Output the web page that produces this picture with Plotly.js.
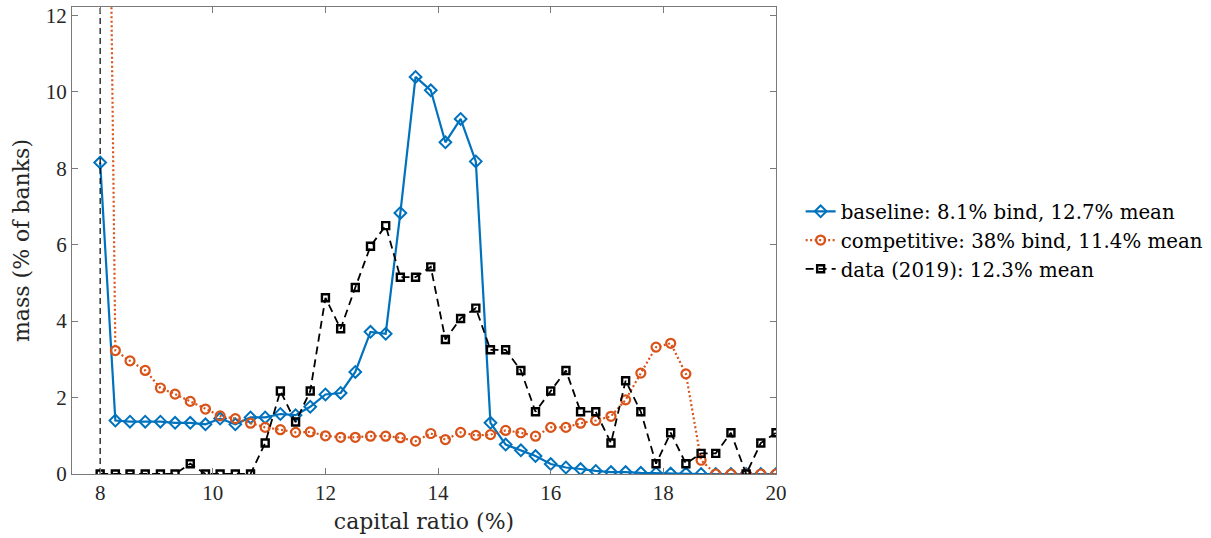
<!DOCTYPE html>
<html>
<head>
<meta charset="utf-8">
<script src="https://cdn.plot.ly/plotly-3.0.1.min.js"></script>
<style>
html,body{margin:0;padding:0;background:#fff;}
#chart{width:1211px;height:538px;}
</style>
</head>
<body>
<div id="chart"></div>
<script>
// capital ratio grid (%)
const capitalRatio = [8.00, 8.27, 8.53, 8.80, 9.07, 9.33, 9.60, 9.87, 10.13, 10.40,
  10.67, 10.93, 11.20, 11.47, 11.73, 12.00, 12.27, 12.53, 12.80, 13.07,
  13.33, 13.60, 13.87, 14.13, 14.40, 14.67, 14.93, 15.20, 15.47, 15.73,
  16.00, 16.27, 16.53, 16.80, 17.07, 17.33, 17.60, 17.87, 18.13, 18.40,
  18.67, 18.93, 19.20, 19.47, 19.73, 20.00];

const baseline = [8.15, 1.40, 1.37, 1.37, 1.37, 1.34, 1.34, 1.30, 1.45, 1.30,
  1.48, 1.48, 1.57, 1.54, 1.76, 2.08, 2.12, 2.67, 3.72, 3.67,
  6.83, 10.39, 10.04, 8.68, 9.29, 8.18, 1.34, 0.77, 0.62, 0.47,
  0.26, 0.17, 0.13, 0.08, 0.05, 0.05, 0.03, 0.02, 0.01, 0.01,
  0, 0, 0, 0, 0, 0];

const competitive = [38.0, 3.23, 2.96, 2.71, 2.25, 2.09, 1.90, 1.70, 1.52, 1.45,
  1.33, 1.22, 1.16, 1.09, 1.10, 1.00, 0.96, 0.96, 0.99, 0.99,
  0.95, 0.86, 1.06, 0.90, 1.09, 1.01, 1.03, 1.14, 1.08, 0.99,
  1.22, 1.22, 1.33, 1.40, 1.51, 1.94, 2.64, 3.32, 3.42, 2.62,
  0.36, 0, 0, 0, 0, 0];

const data2019 = [0, 0, 0, 0, 0, 0, 0.27, 0, 0, 0,
  0, 0.81, 2.17, 1.36, 2.17, 4.61, 3.80, 4.88, 5.96, 6.50,
  5.15, 5.15, 5.42, 3.52, 4.07, 4.34, 3.25, 3.25, 2.71, 1.63,
  2.17, 2.71, 1.63, 1.63, 0.81, 2.44, 1.63, 0.27, 1.08, 0.27,
  0.54, 0.54, 1.08, 0, 0.81, 1.08];

const seriesNames = ['baseline: 8.1% bind, 12.7% mean',
  'competitive: 38% bind, 11.4% mean',
  'data (2019): 12.3% mean'];

const minRequirement = 8;      // regulatory minimum (%)
const yTop = 12.22;

const xTicks = [8, 10, 12, 14, 16, 18, 20];
const yTicks = [0, 2, 4, 6, 8, 10, 12];

const TICKFONT = 'Liberation Serif, Times New Roman, serif';
const TEXTFONT = 'DejaVu Serif, serif';
const TXT = '#262626';
const AX = '#7a7a7a';

const traces = [
  {
    x: capitalRatio, y: baseline, name: seriesNames[0], type: 'scatter', mode: 'lines+markers',
    line: {color: '#0072BD', width: 2.2},
    marker: {symbol: 'diamond-open', size: 9, color: '#0072BD', line: {width: 2, color: '#0072BD'}}
  },
  {
    x: capitalRatio, y: competitive, name: seriesNames[1], type: 'scatter', mode: 'lines+markers',
    line: {color: '#D95319', width: 2.2, dash: '2px,2.5px'},
    marker: {symbol: 'circle-open', size: 9, color: '#D95319', line: {width: 2.2, color: '#D95319'}}
  },
  {
    x: capitalRatio, y: data2019, name: seriesNames[2], type: 'scatter', mode: 'lines+markers',
    line: {color: '#000000', width: 1.8, dash: '8px,5px'},
    marker: {symbol: 'square-open', size: 7, color: '#000000', line: {width: 2.4, color: '#000000'}}
  },
  {
    x: [minRequirement, minRequirement], y: [0, yTop], type: 'scatter', mode: 'lines',
    showlegend: false, hoverinfo: 'skip',
    line: {color: '#000000', width: 1.2, dash: '6px,4px'}
  }
];

const layout = {
  width: 1211, height: 538,
  margin: {l: 72, r: 435, t: 7, b: 64, pad: 0, autoexpand: false},
  paper_bgcolor: '#ffffff', plot_bgcolor: '#ffffff',
  font: {family: TEXTFONT, size: 20, color: TXT},
  showlegend: true,
  legend: {
    x: 1.035, y: 0.604, xanchor: 'left', yanchor: 'top',
    bgcolor: 'rgba(255,255,255,0)', borderwidth: 0,
    font: {family: TEXTFONT, size: 19.8, color: '#000'},
    tracegroupgap: 0, itemwidth: 30
  },
  xaxis: {
    range: [7.5, 20], tickvals: xTicks, ticktext: xTicks.map(String),
    ticks: 'inside', ticklen: 6, tickcolor: AX, tickwidth: 1,
    showline: true, linecolor: AX, linewidth: 1, mirror: 'allticks',
    showgrid: false, zeroline: false,
    tickfont: {family: TICKFONT, size: 21, color: TXT},
    title: {text: 'capital ratio (%)', font: {family: TEXTFONT, size: 22, color: TXT}, standoff: 9}
  },
  yaxis: {
    range: [0, yTop], tickvals: yTicks, ticktext: yTicks.map(String),
    ticks: 'inside', ticklen: 6, tickcolor: AX, tickwidth: 1,
    showline: true, linecolor: AX, linewidth: 1, mirror: 'allticks',
    showgrid: false, zeroline: false,
    tickfont: {family: TICKFONT, size: 21, color: TXT},
    title: {text: 'mass (% of banks)', font: {family: TEXTFONT, size: 22, color: TXT}, standoff: 10}
  }
};

Plotly.newPlot('chart', traces, layout, {staticPlot: true, displayModeBar: false});
</script>
</body>
</html>
